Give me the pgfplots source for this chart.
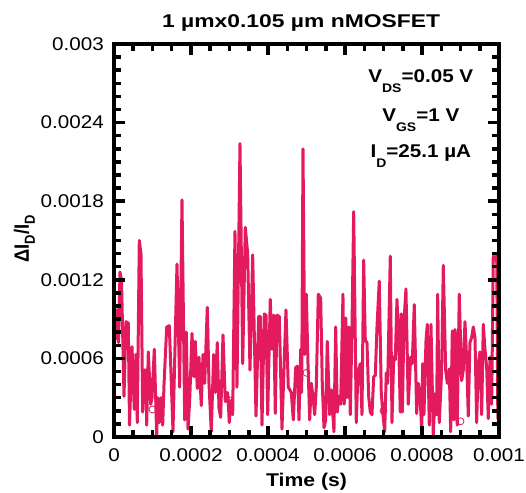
\documentclass[border=0pt]{standalone}
\usepackage{fontspec}
\usepackage{graphicx}
\setmainfont{Liberation Sans}[FakeStretch=1.12]
\newfontfamily\plainfont{Liberation Sans}
\usepackage{pgfplots}
\pgfplotsset{compat=1.18}
\definecolor{noise}{RGB}{227,27,94}
\newcommand{\sub}[1]{\raisebox{-10bp}{\fontsize{12.5}{12.5}\selectfont #1}}
\newcommand{\btext}[2][1.12]{\scalebox{#1}[1]{\plainfont\bfseries\fontsize{18.5}{20}\selectfont #2}}
\begin{document}
\begin{tikzpicture}
\begin{axis}[
  scale only axis, width=385bp, height=393bp,
  xmin=0, xmax=0.001, ymin=0, ymax=0.003,
  xtick={0,0.0002,0.0004,0.0006,0.0008,0.001},
  xticklabels={0,0.0002,0.0004,0.0006,0.0008,0.001},
  ytick={0,0.0006,0.0012,0.0018,0.0024,0.003},
  yticklabels={0,0.0006,0.0012,0.0018,0.0024,0.003},
  minor x tick num=3, minor y tick num=5,
  tick align=inside, xtick pos=both, ytick pos=both,
  major tick length=11bp, minor tick length=7bp,
  tick style={line width=3.5bp, black},
  axis line style={line width=4bp, black},
  tick label style={font=\fontsize{18.5}{20}\selectfont},
  yticklabel style={anchor=east, inner sep=0pt, xshift=-10bp},
  xticklabel style={anchor=north, inner sep=0pt, yshift=-11bp},
  scaled ticks=false,
  axis on top, clip=false,
]
\addplot[noise, line width=3bp, line join=round] coordinates {
(0,1.02e-3) (5.2e-6,0.75e-3) (7.8e-6,0.97e-3) (11.7e-6,0.72e-3) (15.6e-6,1.26e-3)
(19.5e-6,1.20e-3) (26.0e-6,0.31e-3) (31.2e-6,0.88e-3) (37.1e-6,0.87e-3) (40.3e-6,0.09e-3)
(46.8e-6,0.69e-3) (52.7e-6,0.21e-3) (57.1e-6,0.63e-3) (60.5e-6,0.11e-3) (65.7e-6,1.50e-3)
(70.1e-6,1.40e-3) (74.5e-6,0.19e-3) (78.7e-6,0.51e-3) (83.1e-6,0.51e-3) (84.9e-6,0.09e-3)
(89.1e-6,0.65e-3) (95.3e-6,0.25e-3) (98.7e-6,0.30e-3) (104.7e-6,0.67e-3) (110.9e-6,0.01e-3)
(113.5e-6,0.30e-3) (117.6e-6,0.11e-3) (122.1e-6,0.30e-3) (126.5e-6,0.09e-3) (129.9e-6,0.40e-3)
(136.9e-6,0.84e-3) (143.6e-6,0.85e-3) (147.3e-6,0.55e-3) (153.2e-6,0.04e-3) (163.6e-6,1.32e-3)
(170.6e-6,0.38e-3) (176.6e-6,1.81e-3) (183.6e-6,0.13e-3) (187.8e-6,0.80e-3) (192.2e-6,0.06e-3)
(196.6e-6,0.28e-3) (202.6e-6,0.79e-3) (207.8e-6,0.46e-3) (211.2e-6,0.73e-3) (216.4e-6,0.37e-3)
(220.7e-6,0.61e-3) (226.7e-6,0.24e-3) (231.2e-6,0.63e-3) (235.6e-6,0.41e-3) (242.3e-6,0.99e-3)
(246.7e-6,0.41e-3) (252.7e-6,0.04e-3) (258.9e-6,0.63e-3) (263.1e-6,0.34e-3) (268.3e-6,0.72e-3)
(272.7e-6,0.22e-3) (277.1e-6,0.15e-3) (283.1e-6,0.78e-3) (289.1e-6,0.27e-3) (294.3e-6,0.34e-3)
(296.1e-6,0.31e-3) (299.4e-6,0.11e-3) (303.9e-6,0.28e-3) (308.3e-6,0.17e-3) (314.2e-6,1.57e-3)
(319.4e-6,0.38e-3) (327.2e-6,2.24e-3) (334.3e-6,0.56e-3) (341.0e-6,1.60e-3) (347.2e-6,1.40e-3)
(353.2e-6,0.51e-3) (360.2e-6,1.39e-3) (368.8e-6,0.16e-3) (375.8e-6,0.92e-3) (380.0e-6,0.92e-3)
(384.4e-6,0.09e-3) (390.4e-6,0.94e-3) (394.8e-6,0.93e-3) (399.2e-6,0.17e-3) (405.9e-6,1.05e-3)
(410.3e-6,0.67e-3) (414.8e-6,0.93e-3) (418.9e-6,0.18e-3) (423.3e-6,0.93e-3) (429.3e-6,0.92e-3)
(436.3e-6,0.06e-3) (446.7e-6,0.97e-3) (452.7e-6,0.38e-3) (460.5e-6,0.34e-3) (465.7e-6,0.13e-3)
(471.9e-6,0.53e-3) (476.1e-6,0.54e-3) (480.5e-6,0.13e-3) (484.9e-6,0.67e-3) (487.5e-6,0.34e-3)
(490.9e-6,2.20e-3) (495.3e-6,0.63e-3) (499.5e-6,1.09e-3) (503.9e-6,0.56e-3) (508.3e-6,0.13e-3)
(512.4e-6,0.41e-3) (516.8e-6,0.31e-3) (521.3e-6,0.17e-3) (525.4e-6,0.38e-3) (530.6e-6,1.09e-3)
(536.8e-6,1.06e-3) (541.0e-6,0.41e-3) (545.4e-6,0.07e-3) (549.8e-6,0.13e-3) (554.0e-6,0.73e-3)
(560.2e-6,0.17e-3) (564.4e-6,0.36e-3) (571.3e-6,0.04e-3) (575.8e-6,0.84e-3) (579.9e-6,0.19e-3)
(584.3e-6,0.31e-3) (588.8e-6,0.25e-3) (594.7e-6,1.09e-3) (598.0e-6,0.25e-3) (602.0e-6,0.91e-3)
(605.2e-6,0.30e-3) (609.6e-6,0.84e-3) (613.7e-6,0.17e-3) (618.1e-6,0.83e-3) (622.6e-6,1.72e-3)
(629.3e-6,0.11e-3) (633.7e-6,0.49e-3) (639.7e-6,0.56e-3) (644.1e-6,0.17e-3) (648.5e-6,1.35e-3)
(652.7e-6,0.74e-3) (657.1e-6,0.72e-3) (661.5e-6,0.31e-3) (665.7e-6,0.19e-3) (670.1e-6,0.17e-3)
(674.5e-6,0.46e-3) (678.7e-6,0.47e-3) (683.1e-6,0.84e-3) (689.0e-6,1.19e-3) (694.2e-6,0.34e-3)
(697.9e-6,0.19e-3) (703.1e-6,0.04e-3) (707.2e-6,0.49e-3) (710.9e-6,0.41e-3) (717.6e-6,1.38e-3)
(722.0e-6,0.11e-3) (726.5e-6,0.61e-3) (730.6e-6,0.59e-3) (735.0e-6,1.05e-3) (739.5e-6,0.72e-3)
(743.6e-6,0.19e-3) (746.0e-6,0.94e-3) (749.0e-6,0.19e-3) (753.2e-6,0.88e-3) (758.3e-6,1.13e-3)
(764.3e-6,0.25e-3) (770.6e-6,0.61e-3) (774.7e-6,0.56e-3) (779.9e-6,1.01e-3) (786.2e-6,0.18e-3)
(790.3e-6,0.41e-3) (794.7e-6,0.34e-3) (799.2e-6,0.04e-3) (801.8e-6,0.56e-3) (805.1e-6,0.17e-3)
(810.3e-6,0.73e-3) (813.7e-6,0.86e-3) (818.9e-6,0.09e-3) (823.3e-6,0.86e-3) (829.3e-6,0.01e-3)
(833.7e-6,0.33e-3) (838.1e-6,0.17e-3) (840.7e-6,1.09e-3) (844.9e-6,0.11e-3) (851.1e-6,0.51e-3)
(855.3e-6,1.31e-3) (861.5e-6,0.51e-3) (865.7e-6,0.41e-3) (870.9e-6,0.52e-3) (874.5e-6,0.04e-3)
(878.7e-6,0.81e-3) (883.0e-6,0.13e-3) (885.6e-6,0.82e-3) (888.2e-6,0.76e-3) (891.6e-6,0.09e-3)
(896.8e-6,1.09e-3) (903.0e-6,0.43e-3) (907.2e-6,0.51e-3) (911.6e-6,0.88e-3) (916.0e-6,0.59e-3)
(920.2e-6,0.16e-3) (924.5e-6,0.72e-3) (929.0e-6,0.76e-3) (933.2e-6,0.84e-3) (937.6e-6,0.76e-3)
(942.0e-6,0.11e-3) (946.2e-6,0.56e-3) (950.6e-6,0.65e-3) (955.0e-6,0.17e-3) (959.2e-6,0.86e-3)
(963.6e-6,0.67e-3) (968.0e-6,0.53e-3) (972.1e-6,0.14e-3) (976.6e-6,0.61e-3) (981.0e-6,0.25e-3)
(985.1e-6,1.38e-3) (989.6e-6,1.36e-3) (994.0e-6,1.39e-3) (997.0e-6,0.14e-3) (1000e-6,1.39e-3)
};
\addplot[only marks, noise, mark=o, mark size=3.5bp, mark options={line width=0.8bp}] coordinates {
(100e-6,0.21e-3) (300e-6,0.28e-3) (500e-6,0.49e-3) (700e-6,0.20e-3) (900e-6,0.12e-3)
};
\node[anchor=base] at (rel axis cs:0.486,1.043) {\btext[1.24]{1 µmx0.105 µm nMOSFET}};
\node[anchor=base] at (rel axis cs:0.5,-0.127) {\btext[1.15]{Time (s)}};
\node[anchor=base, rotate=90] at (rel axis cs:-0.221,0.504) {\scalebox{0.89}[1]{\plainfont\bfseries\fontsize{20.8}{22}\selectfont ΔI\raisebox{-6bp}{\fontsize{14.6}{14.6}\selectfont D}/I\raisebox{-6bp}{\fontsize{14.6}{14.6}\selectfont D}}};
\node[anchor=base] at (rel axis cs:0.797,0.901) {\btext{V\sub{DS}=0.05 V}};
\node[anchor=base] at (rel axis cs:0.797,0.802) {\btext{V\sub{GS}=1 V}};
\node[anchor=base] at (rel axis cs:0.797,0.710) {\btext{I\sub{D}=25.1 µA}};
\end{axis}
\pgfresetboundingbox
\path[use as bounding box] (-114bp,-56bp) rectangle (412bp,437bp);
\end{tikzpicture}
\end{document}
